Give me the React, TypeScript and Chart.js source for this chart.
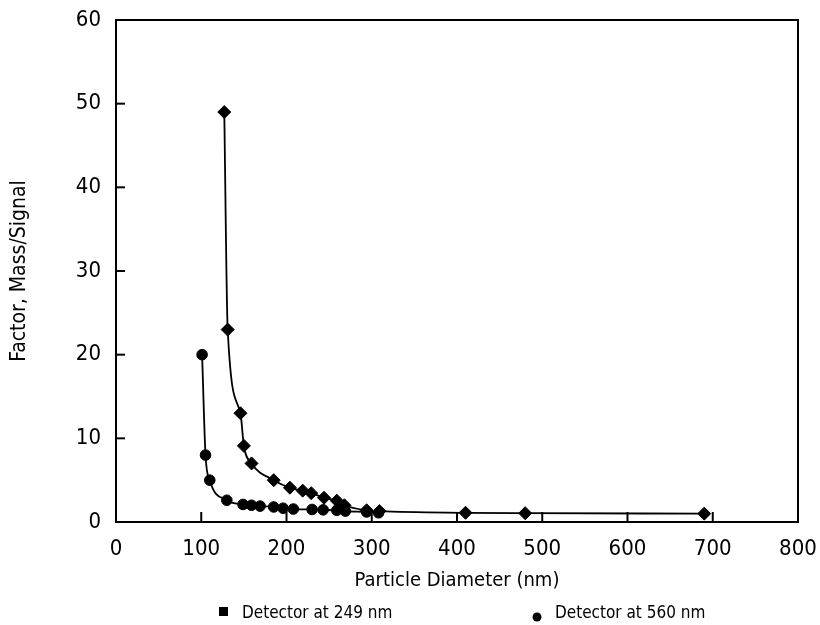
import React, { useEffect, useRef } from 'react';
import { Chart, registerables } from 'chart.js';

Chart.register(...registerables);

// Detector at 249 nm (diamonds)
const det249X = [127, 131, 146, 150, 159, 185, 204, 219, 229, 244, 259, 268, 294, 309, 410, 480, 690];
const det249Y = [49, 23, 13, 9.1, 7.0, 5.0, 4.1, 3.75, 3.45, 2.9, 2.55, 2.0, 1.4, 1.3, 1.1, 1.05, 1.0];
// Detector at 560 nm (circles)
const det560X = [101, 105, 110, 130, 149, 159, 169, 185, 196, 208, 230, 243, 259, 269, 294, 308];
const det560Y = [20, 8, 5, 2.6, 2.1, 2.0, 1.9, 1.8, 1.65, 1.55, 1.5, 1.45, 1.4, 1.3, 1.2, 1.1];

const xTicks = [0, 100, 200, 300, 400, 500, 600, 700, 800];
const yTicks = [0, 10, 20, 30, 40, 50, 60];

const legendLabels = ['Detector at 249 nm', 'Detector at 560 nm'];
const xTitle = 'Particle Diameter (nm)';
const yTitle = 'Factor, Mass/Signal';

const FONT = '"Liberation Sans Narrow", "DejaVu Sans Condensed", "Arial Narrow", sans-serif';

const framePlugin = {
  id: 'frameTicks',
  afterDatasetsDraw(chart: any) {
    const { ctx, chartArea, scales } = chart;
    const { left, right, top, bottom } = chartArea;
    ctx.save();
    ctx.strokeStyle = '#000';
    ctx.lineWidth = 2;
    ctx.strokeRect(left, top, right - left, bottom - top);
    xTicks.forEach((v) => {
      const px = scales.x.getPixelForValue(v);
      ctx.beginPath();
      ctx.moveTo(px, bottom);
      ctx.lineTo(px, bottom - 10);
      ctx.stroke();
    });
    yTicks.forEach((v) => {
      const py = scales.y.getPixelForValue(v);
      ctx.beginPath();
      ctx.moveTo(left, py);
      ctx.lineTo(left + 9, py);
      ctx.stroke();
    });
    ctx.restore();
  },
};

const legendPlugin = {
  id: 'customLegend',
  afterDraw(chart: any) {
    const { ctx } = chart;
    ctx.save();
    ctx.fillStyle = '#000';
    ctx.font = `17px ${FONT}`;
    ctx.textBaseline = 'alphabetic';
    ctx.textAlign = 'left';
    // square marker
    ctx.fillRect(219, 607, 9, 9);
    ctx.fillText(legendLabels[0], 242, 618);
    // circle marker
    ctx.beginPath();
    ctx.arc(537, 617, 4.5, 0, Math.PI * 2);
    ctx.fill();
    ctx.fillText(legendLabels[1], 555, 618);
    ctx.restore();
  },
};

export default function App() {
  const canvasRef = useRef<HTMLCanvasElement>(null);

  useEffect(() => {
    document.body.style.margin = '0';
    const canvas = canvasRef.current;
    if (!canvas) return;
    const chart = new Chart(canvas, {
      type: 'line',
      data: {
        datasets: [
          {
            label: legendLabels[0],
            data: det249X.map((x, i) => ({ x, y: det249Y[i] })),
            borderColor: '#000',
            backgroundColor: '#000',
            borderWidth: 1.8,
            pointStyle: 'rectRot',
            pointRadius: 6.5,
            pointBorderWidth: 1,
            cubicInterpolationMode: 'monotone',
            fill: false,
          },
          {
            label: legendLabels[1],
            data: det560X.map((x, i) => ({ x, y: det560Y[i] })),
            borderColor: '#000',
            backgroundColor: '#000',
            borderWidth: 1.8,
            pointStyle: 'circle',
            pointRadius: 5.3,
            pointBorderWidth: 1,
            cubicInterpolationMode: 'monotone',
            fill: false,
          },
        ],
      },
      options: {
        responsive: false,
        animation: false,
        layout: { padding: { left: 0, right: 22, top: 20, bottom: 0 } },
        plugins: {
          legend: { display: false },
          tooltip: { enabled: false },
        },
        scales: {
          x: {
            type: 'linear',
            min: 0,
            max: 800,
            afterBuildTicks: (scale: any) => {
              scale.ticks = xTicks.map((v) => ({ value: v }));
            },
            afterFit: (scale: any) => {
              scale.height = 103;
              scale.paddingLeft = 0;
              scale.paddingRight = 0;
            },
            ticks: {
              color: '#000',
              padding: 14,
              font: { family: FONT, size: 22 },
              maxRotation: 0,
            },
            grid: { display: false, drawTicks: false },
            border: { display: false },
            title: {
              display: true,
              text: xTitle,
              color: '#000',
              font: { family: FONT, size: 20 },
              padding: { top: 0, bottom: 32 },
            },
          },
          y: {
            type: 'linear',
            min: 0,
            max: 60,
            afterBuildTicks: (scale: any) => {
              scale.ticks = yTicks.map((v) => ({ value: v }));
            },
            afterFit: (scale: any) => {
              scale.width = 116;
              scale.paddingTop = 0;
              scale.paddingBottom = 0;
            },
            ticks: {
              color: '#000',
              padding: 15,
              font: { family: FONT, size: 22 },
            },
            grid: { display: false, drawTicks: false },
            border: { display: false },
            title: {
              display: true,
              text: yTitle,
              color: '#000',
              font: { family: FONT, size: 21 },
              padding: { top: 7, bottom: 0 },
            },
          },
        },
      },
      plugins: [framePlugin, legendPlugin],
    });
    return () => chart.destroy();
  }, []);

  return <canvas ref={canvasRef} width={820} height={625} style={{ display: 'block' }} />;
}
